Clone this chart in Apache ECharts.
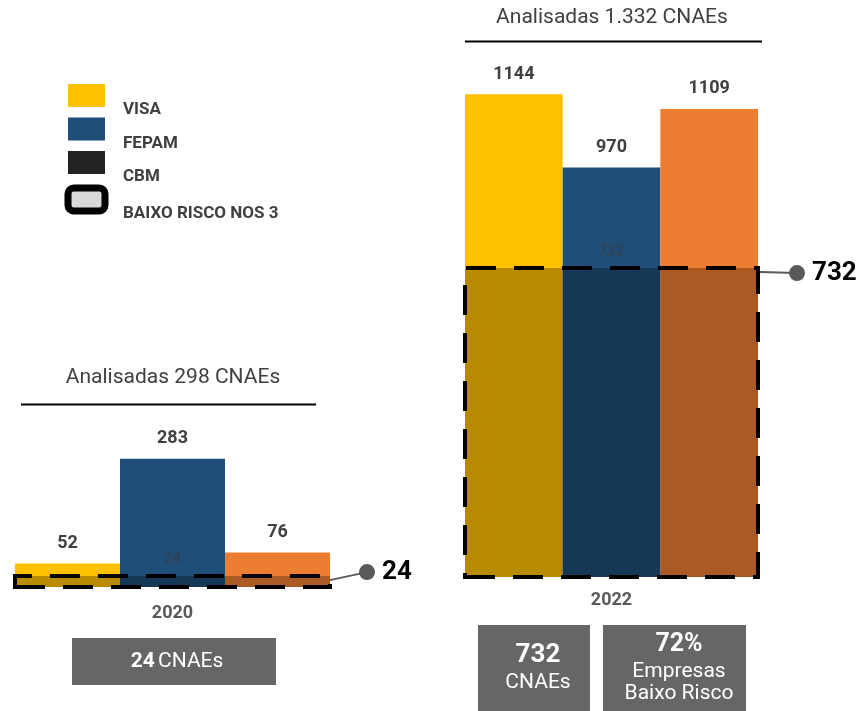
<!DOCTYPE html>
<html>
<head>
<meta charset="utf-8">
<script src="https://cdn.jsdelivr.net/npm/echarts@6/dist/echarts.min.js"></script>
<style>html,body{margin:0;padding:0;background:#fff}#c{width:860px;height:711px}</style>
</head>
<body>
<div id="c"></div>
<script>
// ---- data ----
const years = ['2020', '2022'];
const visa = [52, 1144];
const fepam = [283, 970];
const cbm = [76, 1109];
const lowRisk = [24, 732];
const analyzed = ['298', '1.332'];
const axisMax = [300, 1200];
const lowRiskPct = '72%';
const legendNames = ['VISA', 'FEPAM', 'CBM', 'BAIXO RISCO NOS 3'];

const FONT = 'Roboto';
const colors = { VISA: '#FFC000', FEPAM: '#1F4E79', CBM: '#ED7D31' };

const chart = echarts.init(document.getElementById('c'));

const grids = [
  { left: 15, width: 315, top: 451, height: 136 },
  { left: 465, width: 293, top: 70.5, height: 506.5 }
];

const series = [];
years.forEach((y, i) => {
  [['VISA', visa], ['FEPAM', fepam], ['CBM', cbm]].forEach(([name, arr]) => {
    series.push({
      type: 'bar', name, xAxisIndex: i, yAxisIndex: i,
      data: [arr[i]], barGap: '0%', barCategoryGap: '0%',
      itemStyle: { color: colors[name] },
      label: { show: true, position: 'top', distance: 11, fontFamily: FONT, fontSize: 18, fontWeight: 'bold', color: '#404040' }
    });
  });
  series.push({
    type: 'line', name: 'BAIXO RISCO NOS 3', xAxisIndex: i, yAxisIndex: i,
    data: [], z: 10, clip: false, silent: true,
    markArea: {
      z: 10, silent: true,
      itemStyle: { color: 'rgba(0,0,0,0.28)', borderColor: '#000', borderWidth: 4, borderType: [30, 18] },
      label: { show: true, position: 'top', distance: 7, fontFamily: FONT, fontSize: 15, color: 'rgba(60,60,60,0.8)' },
      data: [[{ yAxis: 0, name: String(lowRisk[i]) }, { yAxis: lowRisk[i] }]]
    }
  });
});

chart.setOption({
  animation: false,
  legend: {
    orient: 'vertical', left: 64.5, top: 84, padding: 0,
    itemWidth: 37, itemHeight: 23, itemGap: -1, icon: 'rect',
    selectedMode: false,
    formatter: '{t|{name}}',
    textStyle: {
      fontFamily: FONT, fontSize: 17, fontWeight: 'bold', color: '#404040',
      rich: { t: { fontFamily: FONT, fontSize: 17, fontWeight: 'bold', color: '#404040', padding: [29, 0, 0, 13] } }
    },
    data: [
      { name: 'VISA', itemStyle: { color: colors.VISA } },
      { name: 'FEPAM', itemStyle: { color: colors.FEPAM } },
      { name: 'CBM', itemStyle: { color: '#222222' } },
      { name: 'BAIXO RISCO NOS 3', icon: 'roundRect', itemStyle: { color: '#d9d9d9', borderColor: '#000', borderWidth: 7 } }
    ]
  },
  grid: grids,
  xAxis: years.map((y, i) => ({
    type: 'category', gridIndex: i, data: [y],
    axisLine: { show: false }, axisTick: { show: false },
    axisLabel: { margin: i === 0 ? 17 : 14, fontFamily: FONT, fontSize: 18, fontWeight: 'bold', color: '#595959' }
  })),
  yAxis: years.map((y, i) => ({
    type: 'value', gridIndex: i, min: 0, max: axisMax[i], show: false, splitLine: { show: false }
  })),
  series
});

// ---- annotations positioned from the library's coordinate systems ----
const gm = chart.getModel();
const g = [];
years.forEach((y, i) => {
  const rect = gm.getComponent('grid', i).coordinateSystem.getRect();
  const yTop = chart.convertToPixel({ yAxisIndex: i }, lowRisk[i]);
  const sx = rect.x + rect.width + (i === 0 ? 0 : 2);
  const sy = yTop + 4;
  const dx = sx + 37;
  const dy = i === 0 ? yTop - 4 : yTop + 5;
  g.push({ type: 'line', shape: { x1: sx, y1: sy, x2: dx, y2: dy }, style: { stroke: '#595959', lineWidth: 2 }, z: 20 });
  g.push({ type: 'circle', shape: { cx: dx, cy: dy, r: 8 }, style: { fill: '#595959' }, z: 20 });
  g.push({ type: 'text', x: dx + 15, y: dy, style: { text: String(lowRisk[i]), font: 'bold 26px ' + FONT, fill: '#000', verticalAlign: 'middle', textAlign: 'left' }, z: 20 });
});

// titles with underline
g.push({ type: 'text', x: 173, y: 378, style: { text: 'Analisadas ' + analyzed[0] + ' CNAEs', font: '21px ' + FONT, fill: '#404040', textAlign: 'center', verticalAlign: 'middle' } });
g.push({ type: 'line', shape: { x1: 21, y1: 404.5, x2: 316, y2: 404.5 }, style: { stroke: '#000', lineWidth: 2 } });
g.push({ type: 'text', x: 612, y: 18, style: { text: 'Analisadas ' + analyzed[1] + ' CNAEs', font: '21px ' + FONT, fill: '#404040', textAlign: 'center', verticalAlign: 'middle' } });
g.push({ type: 'line', shape: { x1: 465, y1: 41.5, x2: 762, y2: 41.5 }, style: { stroke: '#000', lineWidth: 2 } });

// summary boxes
g.push({ type: 'rect', shape: { x: 72, y: 638, width: 204, height: 47 }, style: { fill: '#666666' } });
g.push({ type: 'text', x: 177, y: 661.5, style: {
  text: '{b|' + lowRisk[0] + '} {r|CNAEs}', textAlign: 'center', verticalAlign: 'middle',
  rich: { b: { font: 'bold 21px ' + FONT, fill: '#fff' }, r: { font: '21px ' + FONT, fill: '#fff' } }
} });
g.push({ type: 'rect', shape: { x: 478, y: 625, width: 112, height: 90 }, style: { fill: '#666666' } });
g.push({ type: 'text', x: 538, y: 655, style: { text: String(lowRisk[1]), font: 'bold 26px ' + FONT, fill: '#fff', textAlign: 'center', verticalAlign: 'middle' } });
g.push({ type: 'text', x: 538, y: 683, style: { text: 'CNAEs', font: '21px ' + FONT, fill: '#fff', textAlign: 'center', verticalAlign: 'middle' } });
g.push({ type: 'rect', shape: { x: 603, y: 625, width: 143, height: 90 }, style: { fill: '#666666' } });
g.push({ type: 'text', x: 679, y: 645, style: { text: lowRiskPct, font: 'bold 25px ' + FONT, fill: '#fff', textAlign: 'center', verticalAlign: 'middle' } });
g.push({ type: 'text', x: 679, y: 671.5, style: { text: 'Empresas', font: '21px ' + FONT, fill: '#fff', textAlign: 'center', verticalAlign: 'middle' } });
g.push({ type: 'text', x: 679, y: 694, style: { text: 'Baixo Risco', font: '21px ' + FONT, fill: '#fff', textAlign: 'center', verticalAlign: 'middle' } });

chart.setOption({ graphic: g });
</script>
</body>
</html>
